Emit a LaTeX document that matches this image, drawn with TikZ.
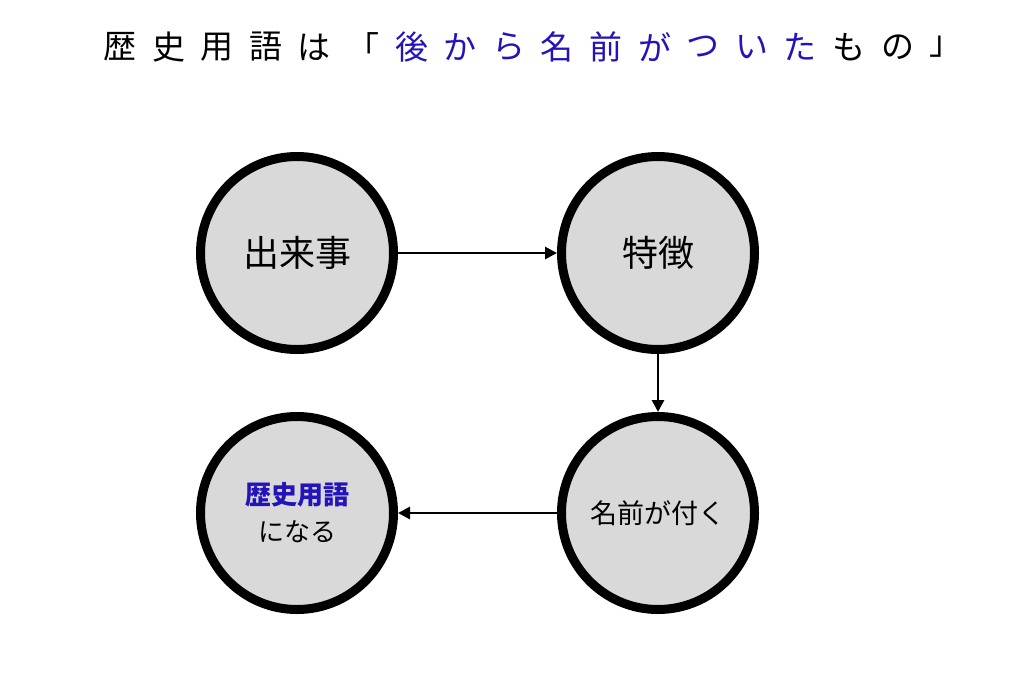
\documentclass[tikz,border=0pt]{standalone}
\usepackage{fontspec}
\setmainfont{Noto Sans CJK JP}
\usetikzlibrary{arrows.meta}
\definecolor{termblue}{RGB}{35,20,185}
\definecolor{stagegray}{RGB}{217,217,217}
\tikzset{
  stage/.style={circle, draw=black, line width=9pt, fill=stagegray,
    minimum size=193pt, inner sep=0pt, align=center},
  flow/.style={line width=2.8pt, -{Triangle[length=12pt,width=12pt]}},
  titlechar/.style={font=\fontsize{33}{38}\selectfont, inner sep=0pt}
}
\begin{document}
\begin{tikzpicture}[x=1pt,y=-1pt]
      \useasboundingbox (0,0) rectangle (1024,683);
      \foreach \ch [count=\i from 0] in {歴,史,用,語,は,「}
      \node[titlechar] (t\i) at (120+48.6*\i,47) {\ch};
      \foreach \ch [count=\i from 6] in {後,か,ら,名,前,が,つ,い,た}
      \node[titlechar, text=termblue] (t\i) at (120+48.6*\i,47) {\ch};
      \foreach \ch [count=\i from 15] in {も,の,」}
      \node[titlechar] (t\i) at (120+48.6*\i,47) {\ch};

      \node[stage, font=\fontsize{36}{40}\selectfont] (event) at (297,253) {出来事};
      \node[stage, font=\fontsize{36}{40}\selectfont] (trait) at (658,253) {特徴};
      \node[stage, font=\fontsize{27}{32}\selectfont] (naming) at (658,513) {名前が付く};
      \node[stage, font=\fontsize{26}{37}\selectfont] (term) at (297,513)
        {\textcolor{termblue}{\bfseries 歴史用語}\\になる};

      \draw[flow] (event) -- (trait);
      \draw[flow] (trait) -- (naming);
      \draw[flow] (naming) -- (term);
    \end{tikzpicture}
\end{document}
